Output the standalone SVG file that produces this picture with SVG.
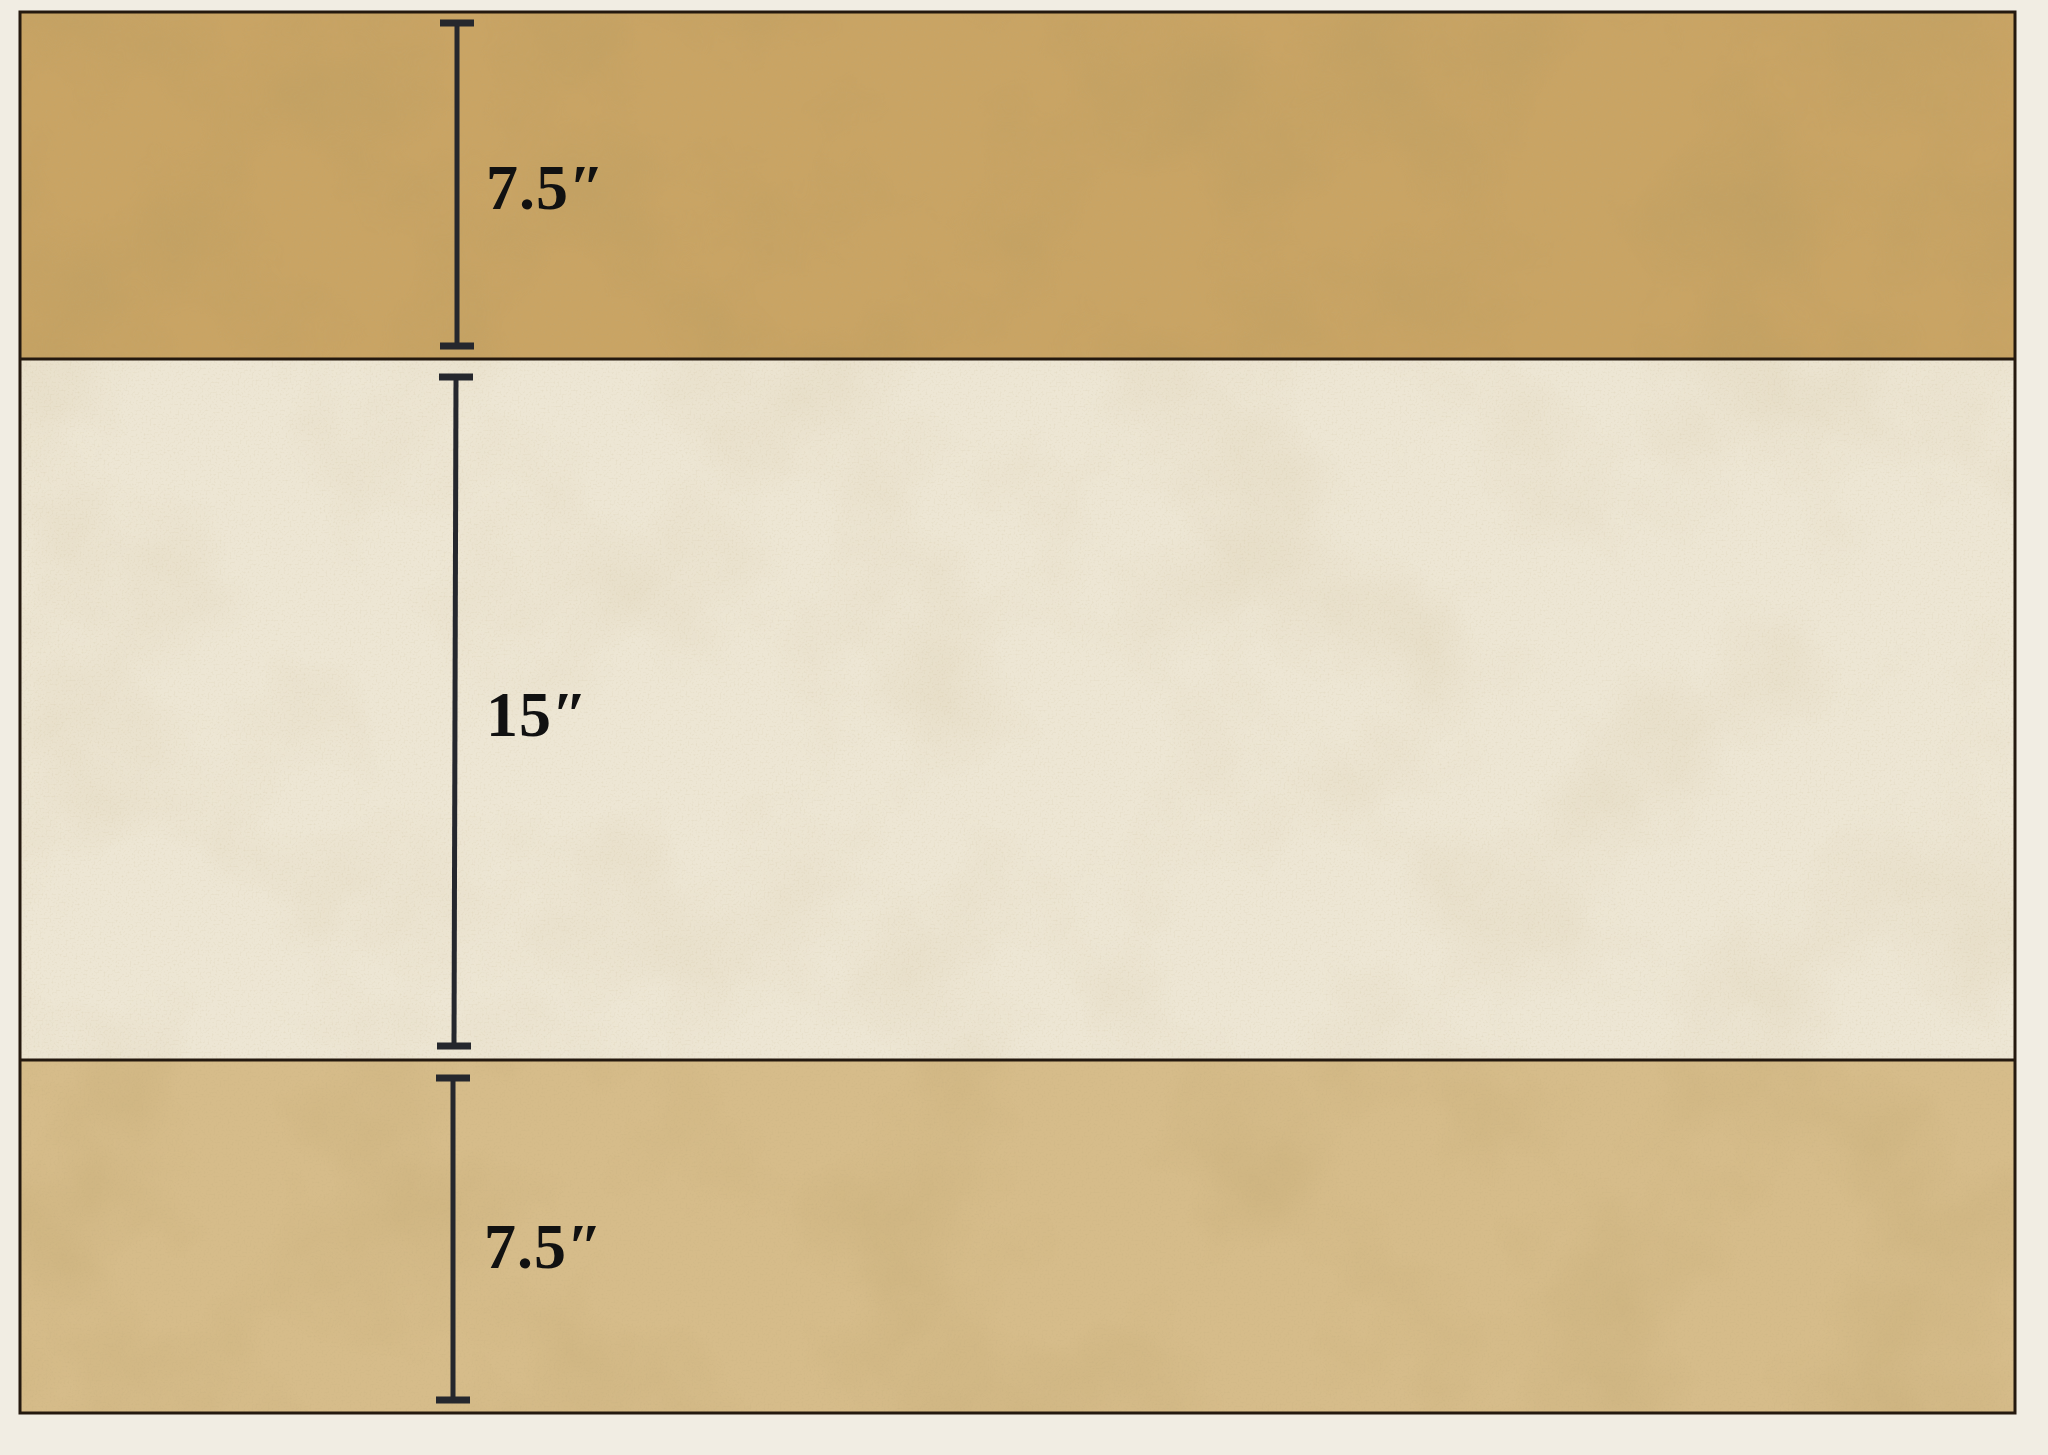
<svg xmlns="http://www.w3.org/2000/svg" width="2048" height="1455" viewBox="0 0 2048 1455">
  <style>
    .edge { fill: none; stroke: #24190f; stroke-width: 3; }
    .dim { stroke: #25272d; stroke-width: 5; fill: none; }
    .tick { stroke: #25272d; stroke-width: 7; stroke-linecap: butt; }
    .lbl { font-family: "Liberation Serif", "Times New Roman", serif; font-weight: bold; font-size: 64px; letter-spacing: 1px; fill: #111111; }
  </style>
  <defs>
    <filter id="mottle" x="0" y="0" width="1" height="1" filterUnits="objectBoundingBox" primitiveUnits="userSpaceOnUse">
      <feTurbulence type="fractalNoise" baseFrequency="0.006" numOctaves="4" seed="7" result="n"/>
      <feColorMatrix in="n" type="matrix" values="0 0 0 0 0.45  0 0 0 0 0.32  0 0 0 0 0.12  1.6 0 0 0 -0.7"/>
    </filter>
    <filter id="grain" x="0" y="0" width="1" height="1" filterUnits="objectBoundingBox" primitiveUnits="userSpaceOnUse">
      <feTurbulence type="fractalNoise" baseFrequency="0.5" numOctaves="2" seed="2" result="g"/>
      <feColorMatrix in="g" type="matrix" values="0 0 0 0 0.5  0 0 0 0 0.4  0 0 0 0 0.2  2 0 0 0 -1.0"/>
    </filter>
  </defs>

  <rect x="0" y="0" width="2048" height="1455" fill="#f1ede3"/>

  <g id="band-top">
    <rect x="20" y="12" width="1995" height="347" fill="#c9a464"/>
    <rect x="20" y="12" width="1995" height="347" filter="url(#mottle)" opacity="0.45"/>
    <rect x="20" y="12" width="1995" height="347" filter="url(#grain)" opacity="0.25"/>
  </g>
  <g id="band-middle">
    <rect x="20" y="359" width="1995" height="701" fill="#ede6d4"/>
    <rect x="20" y="359" width="1995" height="701" filter="url(#mottle)" opacity="0.15"/>
    <rect x="20" y="359" width="1995" height="701" filter="url(#grain)" opacity="0.2"/>
  </g>
  <g id="band-bottom">
    <rect x="20" y="1060" width="1995" height="353" fill="#d6bc8a"/>
    <rect x="20" y="1060" width="1995" height="353" filter="url(#mottle)" opacity="0.3"/>
    <rect x="20" y="1060" width="1995" height="353" filter="url(#grain)" opacity="0.25"/>
  </g>

  <g id="outline">
    <rect class="edge" x="20" y="12" width="1995" height="1401"/>
    <line class="edge" x1="20" y1="359" x2="2015" y2="359"/>
    <line class="edge" x1="20" y1="1060" x2="2015" y2="1060"/>
  </g>

  <g id="dimensions">
    <g id="dim-top">
      <line class="dim" x1="457" y1="23" x2="457" y2="346"/>
      <line class="tick" x1="440" y1="23" x2="474" y2="23"/>
      <line class="tick" x1="440" y1="346" x2="474" y2="346"/>
      <text class="lbl" x="486" y="209">7.5″</text>
    </g>
    <g id="dim-middle">
      <line class="dim" x1="456" y1="377" x2="454" y2="1046"/>
      <line class="tick" x1="439" y1="377" x2="473" y2="377"/>
      <line class="tick" x1="437" y1="1046" x2="471" y2="1046"/>
      <text class="lbl" x="486" y="736">15″</text>
    </g>
    <g id="dim-bottom">
      <line class="dim" x1="453" y1="1078" x2="453" y2="1400"/>
      <line class="tick" x1="436" y1="1078" x2="470" y2="1078"/>
      <line class="tick" x1="436" y1="1400" x2="470" y2="1400"/>
      <text class="lbl" x="484" y="1268">7.5″</text>
    </g>
  </g>
</svg>
